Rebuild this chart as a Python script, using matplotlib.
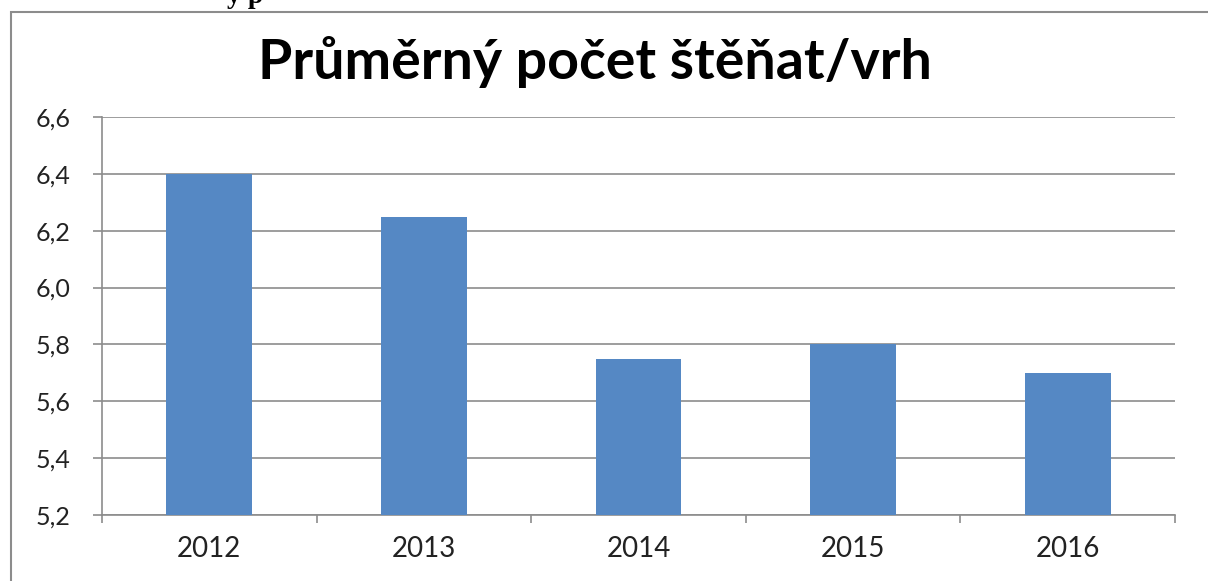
import matplotlib
matplotlib.use("Agg")
from matplotlib import pyplot as plt
from matplotlib.patches import Rectangle
from matplotlib.ticker import FuncFormatter, MultipleLocator

# data
years = ["2012", "2013", "2014", "2015", "2016"]
puppies = [6.4, 6.25, 5.75, 5.8, 5.7]
title = "Průměrný počet štěňat/vrh"

plt.rcParams['font.family'] = ['Lato', 'DejaVu Sans']

fig = plt.figure(figsize=(12.08, 5.81), dpi=100)
ax = fig.add_axes([102 / 1208, 1 - 515 / 581, (1175 - 102) / 1208, (515 - 117) / 581])

# chart frame (cut off on the right and bottom)
fig.patches.append(Rectangle((11 / 1208, -0.1), 1.2, 1 - 12 / 581 + 0.1,
                             transform=fig.transFigure, fill=False,
                             edgecolor='#8c8c8c', linewidth=1.5))
# leftover of text above the chart
fig.text(245 / 1208, 1 + 4 / 581, "y p", family='Liberation Serif', weight='bold',
         fontsize=20, ha='center', va='center', color='black')

x = range(len(years))
ax.bar(x, puppies, width=0.4, color='#5588C4', zorder=3)

ax.set_ylim(5.2, 6.6)
ax.set_xlim(-0.5, len(years) - 0.5)
ax.yaxis.set_major_locator(MultipleLocator(0.2))
ax.yaxis.set_major_formatter(FuncFormatter(lambda v, p: f"{v:.1f}".replace(".", ",")))
ax.grid(axis='y', color='#8c8c8c', linewidth=1.2, zorder=0)

ax.set_xticks(list(x))
ax.set_xticklabels(years)
ax.set_xticks([i - 0.5 for i in range(len(years) + 1)], minor=True)
ax.tick_params(axis='x', which='major', length=0, pad=15, labelsize=20, labelcolor='#222222')
ax.tick_params(axis='x', which='minor', length=6, width=1.2, color='#8c8c8c')
ax.tick_params(axis='y', length=6.5, width=1.2, color='#8c8c8c', pad=16,
               labelsize=18, labelcolor='#222222')

for s in ['top', 'right']:
    ax.spines[s].set_visible(False)
for s in ['left', 'bottom']:
    ax.spines[s].set_color('#8c8c8c')
    ax.spines[s].set_linewidth(1.2)

fig.text(595 / 1208, 1 - 62 / 581, title, ha='center', va='center',
         fontsize=40, weight='bold', color='black')

fig.savefig("out.png", dpi=100)
